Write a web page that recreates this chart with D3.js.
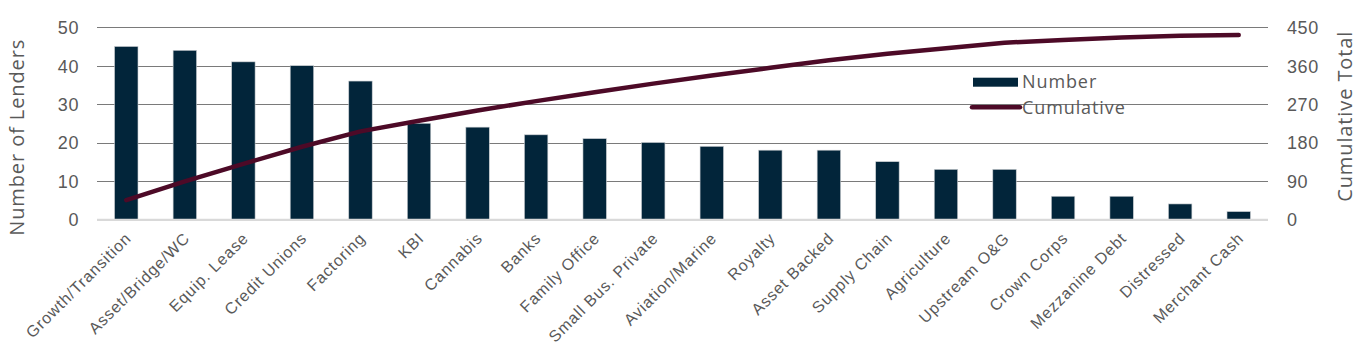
<!DOCTYPE html>
<html><head><meta charset="utf-8">
<script src="https://cdn.jsdelivr.net/npm/d3@7"></script>
<style>
html,body{margin:0;padding:0;background:#fff;}
svg{display:block;font-family:"Open Sans",sans-serif;}
</style></head>
<body><svg id="c" width="1361" height="361"></svg>
<script>
const categories = ["Growth/Transition","Asset/Bridge/WC","Equip. Lease","Credit Unions","Factoring","KBI","Cannabis","Banks","Family Office","Small Bus. Private","Aviation/Marine","Royalty","Asset Backed","Supply Chain","Agriculture","Upstream O&G","Crown Corps","Mezzanine Debt","Distressed","Merchant Cash"];
const numberValues = [45,44,41,40,36,25,24,22,21,20,19,18,18,15,13,13,6,6,4,2];
const leftTicks = [0,10,20,30,40,50];
const rightTicks = [0,90,180,270,360,450];
const seriesNames = ["Number","Cumulative"];

const cumulative = [];
numberValues.reduce((a,v,i)=>{cumulative[i]=a+v;return a+v;},0);

const svg = d3.select("#c");
const L=97, R=1268, T=27.3, B=219.3;
const x = d3.scaleBand().domain(categories).range([L,R]).paddingInner(0.6).paddingOuter(0.3);
const yL = d3.scaleLinear().domain([0,50]).range([B,T]);
const yR = d3.scaleLinear().domain([0,450]).range([B,T]);
const txt="#595959";

// gridlines
svg.append("g").selectAll("line").data(leftTicks.filter(d=>d>0)).join("line")
  .attr("x1",L).attr("x2",R).attr("y1",d=>Math.round(yL(d))+0.5).attr("y2",d=>Math.round(yL(d))+0.5)
  .attr("stroke","#7a7a7a").attr("stroke-width",1.2);

// bars
svg.append("g").selectAll("rect").data(numberValues).join("rect")
  .attr("x",(d,i)=>x(categories[i])).attr("width",x.bandwidth())
  .attr("y",d=>yL(d)).attr("height",d=>B-yL(d))
  .attr("fill","#02253a").attr("stroke","#c8ccd0").attr("stroke-width",0.6);

// baseline
svg.append("line").attr("x1",L).attr("x2",R).attr("y1",B+0.5).attr("y2",B+0.5)
  .attr("stroke","#d9d9d9").attr("stroke-width",2.2);

// cumulative line
const line = d3.line().x((d,i)=>x(categories[i])+x.bandwidth()/2).y(d=>yR(d));
svg.append("path").datum(cumulative).attr("d",line).attr("fill","none")
  .attr("stroke","#4d0a27").attr("stroke-width",4.5).attr("stroke-linecap","round").attr("stroke-linejoin","round");

// left axis labels
const ax = d3.axisLeft(yL).tickValues(leftTicks).tickSize(0).tickPadding(0);
const gL = svg.append("g").attr("transform",`translate(79,0)`).call(ax);
gL.select(".domain").remove();
gL.selectAll("text").attr("fill",txt).style("font-size","18px").style("letter-spacing","0.6px").attr("dy","0.36em");

const axR = d3.axisRight(yR).tickValues(rightTicks).tickSize(0).tickPadding(0);
const gR = svg.append("g").attr("transform",`translate(1287,0)`).call(axR);
gR.select(".domain").remove();
gR.selectAll("text").attr("fill",txt).style("font-size","18px").style("letter-spacing","0.6px").attr("dy","0.36em");

// axis titles
svg.append("text").attr("transform",`translate(24,${(T+B)/2+14}) rotate(-90)`).attr("text-anchor","middle")
  .attr("fill",txt).style("font-size","20px").style("letter-spacing","0.9px").text("Number of Lenders");
svg.append("text").attr("transform",`translate(1352,${(T+B)/2-7}) rotate(-90)`).attr("text-anchor","middle")
  .attr("fill",txt).style("font-size","20px").style("letter-spacing","0.9px").text("Cumulative Total");

// x labels
const axB = d3.axisBottom(x).tickSize(0).tickPadding(0);
const gB = svg.append("g").attr("transform",`translate(0,${B})`).call(axB);
gB.select(".domain").remove();
gB.selectAll("text").attr("fill",txt).style("font-size","16px").style("letter-spacing","0.9px")
  .attr("text-anchor","end").attr("dy","0").attr("y",0)
  .attr("transform","translate(6,20) rotate(-45)");

// legend
const lg = svg.append("g");
lg.append("rect").attr("x",973).attr("y",77.7).attr("width",45).attr("height",9).attr("fill","#02253a");
lg.append("line").attr("x1",972).attr("x2",1020).attr("y1",107.3).attr("y2",107.3)
  .attr("stroke","#4d0a27").attr("stroke-width",4.5).attr("stroke-linecap","round");
lg.selectAll("text").data(seriesNames).join("text")
  .attr("x",1022).attr("y",(d,i)=>88+i*26).attr("fill",txt).style("font-size","18px").style("letter-spacing","0.9px").text(d=>d);
</script></body></html>
